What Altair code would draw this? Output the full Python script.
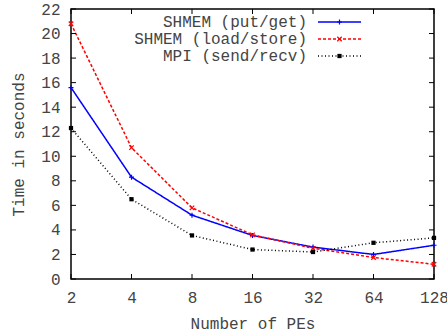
import altair as alt
import pandas as pd

pes = [2, 4, 8, 16, 32, 64, 128]
put_get = [15.6, 8.3, 5.2, 3.55, 2.6, 2.0, 2.75]
load_store = [20.8, 10.7, 5.8, 3.6, 2.5, 1.75, 1.2]
send_recv = [12.3, 6.5, 3.55, 2.4, 2.2, 2.95, 3.35]
series_names = ["SHMEM (put/get)", "SHMEM (load/store)", "MPI (send/recv)"]
y_ticks = list(range(0, 23, 2))

W, H = 363, 270
FONT = "Liberation Mono"
TXT = "#444444"

PLUS = "M-1,0L1,0M0,-1L0,1"
XMARK = "M-1,-1L1,1M-1,1L1,-1"

styles = [
    dict(color="#0000ff", dash=[1, 0], shape=PLUS, filled=False, size=25, sw=1.5),
    dict(color="#ff0000", dash=[3, 2], shape=XMARK, filled=False, size=20, sw=1.5),
    dict(color="#000000", dash=[1, 2.5], shape="square", filled=True, size=18, sw=1.5),
]
values = [put_get, load_store, send_recv]

x_scale = alt.Scale(type="log", base=2, domain=[2, 128], nice=False)
y_scale = alt.Scale(domain=[0, 22], nice=False)

x_axis = alt.Axis(values=pes, format="d", labelFont=FONT, labelFontSize=16, labelColor=TXT,
                  ticks=False, domain=False, grid=False, labelPadding=10,
                  title="Number of PEs", titleFont=FONT, titleFontSize=16,
                  titleFontWeight="normal", titleColor=TXT, titlePadding=10, labelFlush=False)
y_axis = alt.Axis(values=y_ticks, labelFont=FONT, labelFontSize=16, labelColor=TXT,
                  ticks=False, domain=False, grid=False, labelPadding=11,
                  title="Time in seconds", titleFont=FONT, titleFontSize=16,
                  titleFontWeight="normal", titleColor=TXT, titlePadding=14)


def X(field):
    return alt.X(field, scale=x_scale, axis=x_axis, title="Number of PEs")


def Y(field):
    return alt.Y(field, scale=y_scale, axis=y_axis, title="Time in seconds")


layers = []
legend_y = [13, 30, 47]
for i, (name, vals, st) in enumerate(zip(series_names, values, styles)):
    df = pd.DataFrame({"pes": pes, "time": vals, "series": name})
    base = alt.Chart(df)
    line = base.mark_line(color=st["color"], strokeDash=st["dash"], strokeWidth=st["sw"]).encode(
        x=X("pes:Q"), y=Y("time:Q"))
    pts = base.mark_point(shape=st["shape"], filled=st["filled"], size=st["size"],
                          color=st["color"], strokeWidth=1.2, opacity=1).encode(
        x=X("pes:Q"), y=Y("time:Q"))
    layers += [line, pts]
    # legend entry
    ldf = pd.DataFrame({"series": [name]})
    lb = alt.Chart(ldf)
    layers.append(lb.mark_text(align="right", baseline="middle", font=FONT, fontSize=16,
                               color=TXT).encode(text="series:N", x=alt.value(236),
                                                 y=alt.value(legend_y[i])))
    layers.append(lb.mark_rule(color=st["color"], strokeDash=st["dash"], strokeWidth=st["sw"]).encode(
        x=alt.value(247), x2=alt.value(290), y=alt.value(legend_y[i])))
    layers.append(lb.mark_point(shape=st["shape"], filled=st["filled"], size=st["size"],
                                color=st["color"], strokeWidth=1.2, opacity=1).encode(
        x=alt.value(268.5), y=alt.value(legend_y[i])))

# inward tick marks on all four sides
ydf = pd.DataFrame({"time": y_ticks})
xdf = pd.DataFrame({"pes": pes})
layers.append(alt.Chart(ydf).mark_rule(color="black", strokeWidth=1).encode(
    y=Y("time:Q"), x=alt.value(0), x2=alt.value(5)))
layers.append(alt.Chart(ydf).mark_rule(color="black", strokeWidth=1).encode(
    y=Y("time:Q"), x=alt.value(W - 5), x2=alt.value(W)))
layers.append(alt.Chart(xdf).mark_rule(color="black", strokeWidth=1).encode(
    x=X("pes:Q"), y=alt.value(H - 5), y2=alt.value(H)))
layers.append(alt.Chart(xdf).mark_rule(color="black", strokeWidth=1).encode(
    x=X("pes:Q"), y=alt.value(0), y2=alt.value(5)))

chart = alt.layer(*layers).properties(
    width=W, height=H,
    autosize=alt.AutoSizeParams(type="none"),
    padding={"left": 71, "top": 9, "right": 13, "bottom": 56},
    background="white",
).configure_view(stroke="black", strokeWidth=1.5)

chart.save("out.html", embed_options={"renderer": "svg", "actions": False})
